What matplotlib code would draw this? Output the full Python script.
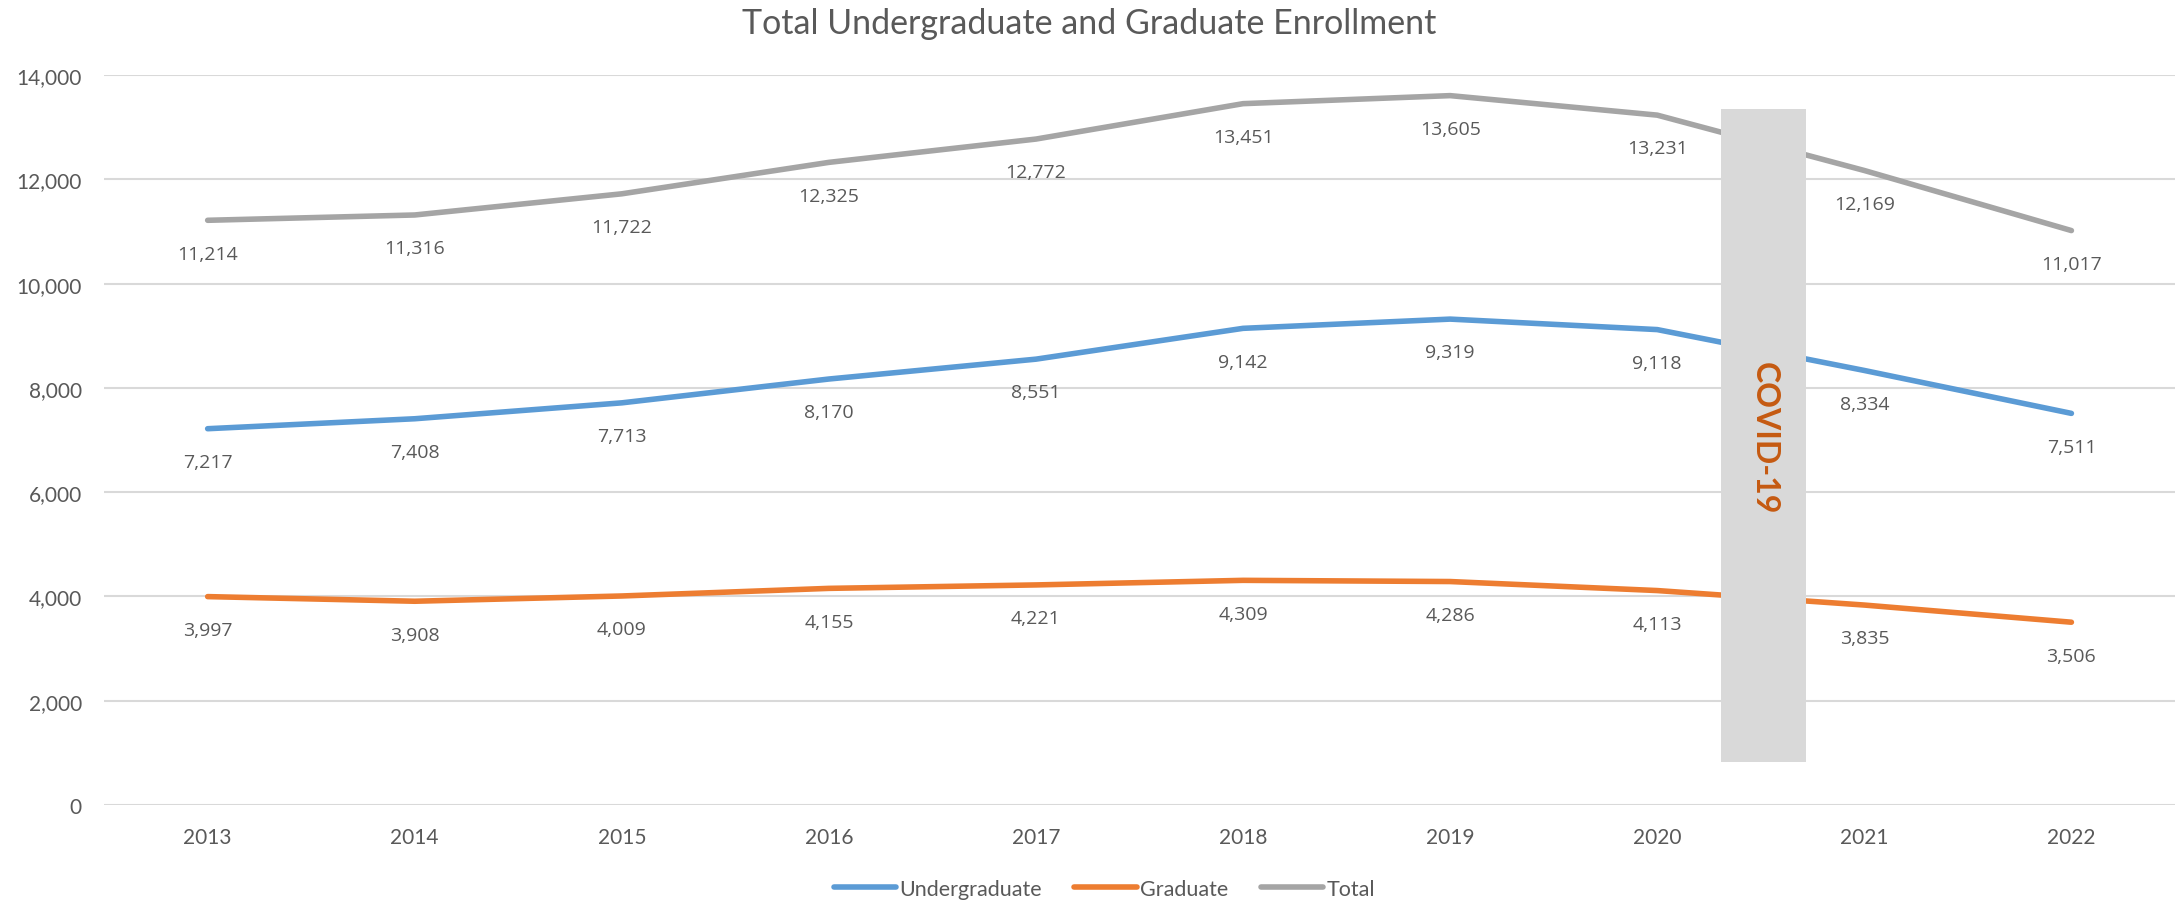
import numpy as np
import matplotlib.pyplot as plt
from matplotlib.patches import Rectangle

years = ["2013", "2014", "2015", "2016", "2017", "2018", "2019", "2020", "2021", "2022"]
undergraduate = [7217, 7408, 7713, 8170, 8551, 9142, 9319, 9118, 8334, 7511]
graduate = [3997, 3908, 4009, 4155, 4221, 4309, 4286, 4113, 3835, 3506]
total = [11214, 11316, 11722, 12325, 12772, 13451, 13605, 13231, 12169, 11017]

series = [
    ("Undergraduate", undergraduate, "#5B9BD5"),
    ("Graduate", graduate, "#ED7D31"),
    ("Total", total, "#A5A5A5"),
]

text_color = "#595959"
tick_font = "Lato"
label_font = "Open Sans"

fig = plt.figure(figsize=(21.78, 9.03), dpi=100)
ax = fig.add_axes([0.0478, 0.1074, 0.9508, 0.8084])

x = np.arange(len(years))
for name, values, color in series:
    ax.plot(x, values, color=color, lw=4, solid_capstyle="round", label=name, zorder=3)
    for xi, v in zip(x, values):
        ax.annotate(f"{v:,}", (xi, v), xytext=(0, -24), textcoords="offset points",
                    ha="center", va="center", fontsize=14, color=text_color,
                    family=label_font, zorder=4)

# covid shading box drawn over the lines
ax.add_patch(Rectangle((7.31, 825), 0.41, 13348 - 825, facecolor="#D9D9D9",
                       edgecolor="none", zorder=5))
ax.text(7.515, 7050, "COVID-19", rotation=-90, ha="center", va="center",
        fontsize=23, fontweight="bold", color="#C55A11", family="Lato", zorder=6)

ax.set_xlim(-0.5, 9.5)
ax.set_ylim(0, 14000)
ax.set_xticks(x)
ax.set_xticklabels(years)
ax.set_yticks(np.arange(0, 14001, 2000))
ax.set_yticklabels([f"{t:,}" for t in range(0, 14001, 2000)])
ax.tick_params(length=0, labelsize=15, labelcolor=text_color)
ax.tick_params(axis="y", pad=16)
ax.tick_params(axis="x", pad=16)
for lbl in ax.get_xticklabels() + ax.get_yticklabels():
    lbl.set_family(tick_font)

ax.grid(axis="y", color="#D9D9D9", lw=1.5, zorder=0)
ax.set_axisbelow(True)
for s in ax.spines.values():
    s.set_visible(False)

fig.text(0.5, 0.973, "Total Undergraduate and Graduate Enrollment", ha="center", va="center",
         fontsize=24.5, color=text_color, family=tick_font)

leg = fig.legend(loc="center", bbox_to_anchor=(0.507, 0.0144), ncol=3, frameon=False,
                 handlelength=2.9, handletextpad=0.15, columnspacing=1.5,
                 prop={"family": tick_font, "size": 15.5})
for t in leg.get_texts():
    t.set_color(text_color)

fig.savefig("out.png", dpi=100)
